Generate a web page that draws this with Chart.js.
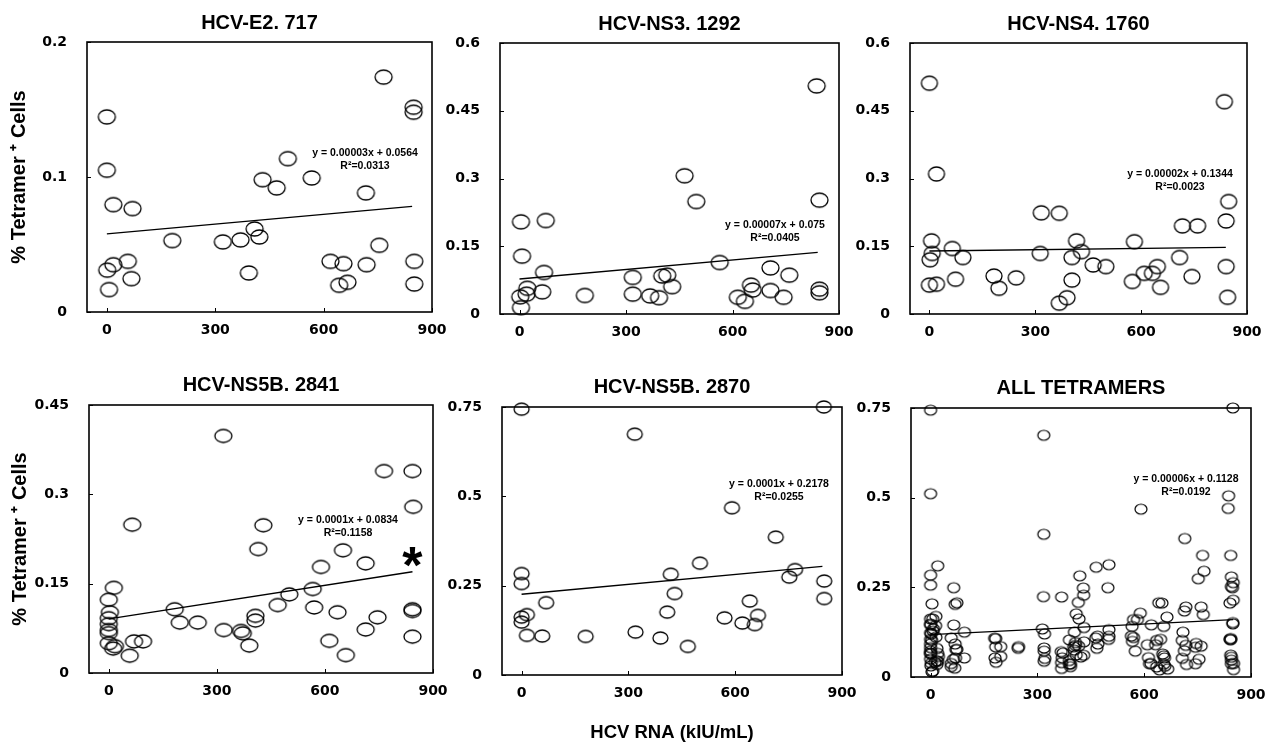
<!DOCTYPE html>
<html><head><meta charset="utf-8">
<script src="https://cdn.jsdelivr.net/npm/chart.js@4.4.1/dist/chart.umd.min.js"></script>
<style>
html,body{margin:0;padding:0;background:#fff;}
#wrap{position:relative;width:1271px;height:746px;overflow:hidden;background:#fff;}
#wrap canvas{position:absolute;left:0;top:0;}
</style></head><body>
<div id="wrap">
<canvas id="c1" width="1271" height="746"></canvas>
<canvas id="c2" width="1271" height="746"></canvas>
<canvas id="c3" width="1271" height="746"></canvas>
<canvas id="c4" width="1271" height="746"></canvas>
<canvas id="c5" width="1271" height="746"></canvas>
<canvas id="c6" width="1271" height="746"></canvas>
</div>
<script>
// ---------- data ----------
const panelTitles = ["HCV-E2. 717", "HCV-NS3. 1292", "HCV-NS4. 1760", "HCV-NS5B. 2841", "HCV-NS5B. 2870", "ALL TETRAMERS"];
const yAxisTitle = "% Tetramer \u207A Cells";
const xAxisTitle = "HCV RNA (kIU/mL)";
const xTickVals = [0, 300, 600, 900];

const e2X = [0, 0, 18, 71, 18, 1, 58, 68, 6, 181, 321, 370, 409, 422, 393, 431, 470, 501, 567, 766, 849, 849, 717, 754, 619, 655, 719, 851, 643, 666, 851];
const e2Y = [0.1445, 0.105, 0.0795, 0.0766, 0.035, 0.031, 0.0375, 0.0247, 0.0166, 0.0529, 0.0519, 0.0534, 0.0615, 0.0556, 0.0289, 0.098, 0.0919, 0.1136, 0.0993, 0.174, 0.1517, 0.148, 0.0882, 0.0494, 0.0375, 0.0358, 0.035, 0.0375, 0.0198, 0.022, 0.0207];
const e2YTicks = [0, 0.1, 0.2];
const e2TrendX = [0, 845];
const e2TrendY = [0.0578, 0.0783];
const e2Eq = ["y = 0.00003x + 0.0564", "R\u00B2=0.0313"];

const ns3X = [837, 465, 498, 845, 4, 74, 7, 69, 564, 319, 402, 416, 430, 707, 760, 652, 657, 707, 744, 615, 635, 845, 845, 22, 20, 2, 4, 64, 184, 319, 368, 393];
const ns3Y = [0.505, 0.306, 0.249, 0.252, 0.204, 0.207, 0.128, 0.092, 0.114, 0.081, 0.084, 0.086, 0.0605, 0.102, 0.086, 0.064, 0.053, 0.052, 0.037, 0.037, 0.028, 0.055, 0.047, 0.057, 0.044, 0.038, 0.014, 0.049, 0.041, 0.044, 0.040, 0.036];
const ns3YTicks = [0, 0.15, 0.3, 0.45, 0.6];
const ns3TrendX = [0, 840];
const ns3TrendY = [0.0775, 0.1365];
const ns3Eq = ["y = 0.00007x + 0.075", "R\u00B2=0.0405"];

const ns4X = [0, 20, 836, 848, 841, 317, 368, 717, 760, 6, 8, 2, 65, 95, 314, 417, 404, 431, 464, 500, 581, 709, 841, 0, 20, 74, 183, 197, 246, 404, 368, 390, 575, 609, 632, 646, 655, 744, 845];
const ns4Y = [0.511, 0.310, 0.470, 0.249, 0.206, 0.224, 0.223, 0.195, 0.195, 0.162, 0.134, 0.120, 0.145, 0.125, 0.134, 0.162, 0.125, 0.138, 0.1085, 0.105, 0.160, 0.125, 0.105, 0.064, 0.066, 0.077, 0.084, 0.057, 0.080, 0.075, 0.024, 0.036, 0.072, 0.090, 0.090, 0.105, 0.059, 0.083, 0.037];
const ns4YTicks = [0, 0.15, 0.3, 0.45, 0.6];
const ns4TrendX = [0, 840];
const ns4TrendY = [0.1395, 0.1476];
const ns4Eq = ["y = 0.00002x + 0.1344", "R\u00B2=0.0023"];

const n2841X = [318, 764, 843, 845, 65, 429, 415, 650, 713, 589, 14, 501, 566, 469, 570, 183, 0, 3, 0, 0, 0, 0, 197, 247, 407, 407, 319, 367, 372, 390, 635, 746, 713, 843, 843, 843, 612, 658, 0, 12, 58, 70, 95, 17];
const n2841Y = [0.398, 0.339, 0.339, 0.279, 0.249, 0.248, 0.208, 0.206, 0.184, 0.178, 0.143, 0.132, 0.141, 0.114, 0.110, 0.107, 0.123, 0.102, 0.092, 0.082, 0.072, 0.067, 0.0846, 0.0846, 0.096, 0.088, 0.072, 0.0706, 0.0666, 0.046, 0.102, 0.0935, 0.073, 0.107, 0.104, 0.061, 0.054, 0.030, 0.050, 0.041, 0.029, 0.053, 0.053, 0.045];
const n2841YTicks = [0, 0.15, 0.3, 0.45];
const n2841TrendX = [0, 843];
const n2841TrendY = [0.091, 0.170];
const n2841Eq = ["y = 0.0001x + 0.0834", "R\u00B2=0.1158"];
const n2841Star = [843, 0.195];

const n2870X = [0, 849, 318, 591, 714, 501, 0, 0, 419, 768, 752, 850, 850, 430, 69, 641, 409, 15, 0, 0, 570, 664, 620, 655, 15, 58, 180, 320, 390, 467];
const n2870Y = [0.744, 0.750, 0.674, 0.468, 0.386, 0.313, 0.284, 0.256, 0.282, 0.295, 0.274, 0.263, 0.214, 0.228, 0.2025, 0.207, 0.176, 0.169, 0.162, 0.148, 0.160, 0.167, 0.1455, 0.141, 0.111, 0.109, 0.108, 0.120, 0.1035, 0.080];
const n2870YTicks = [0, 0.25, 0.5, 0.75];
const n2870TrendX = [0, 845];
const n2870TrendY = [0.226, 0.304];
const n2870Eq = ["y = 0.0001x + 0.2178", "R\u00B2=0.0255"];

// "ALL TETRAMERS" is the pooled set of the five tetramers above
const allX = [].concat(e2X, ns3X, ns4X, n2841X, n2870X);
const allY = [].concat(e2Y, ns3Y, ns4Y, n2841Y, n2870Y);
const allYTicks = [0, 0.25, 0.5, 0.75];
const allTrendX = [0, 850];
const allTrendY = [0.118, 0.160];
const allEq = ["y = 0.00006x + 0.1128", "R\u00B2=0.0192"];

// ---------- styling / layout ----------
const SANS = "'Liberation Sans', Arial, Helvetica, sans-serif";
const TICKF = "'DejaVu Sans', Verdana, sans-serif";
const TITLE_FONT = {family: SANS, size: 20, weight: 'bold', lineHeight: 1.2};
const TICK_FONT = {family: TICKF, size: 14, weight: 'bold', lineHeight: 1.2};

function ellipseImg(w, h, lw) {
  const c = document.createElement('canvas');
  c.width = w + 4; c.height = h + 4;
  const g = c.getContext('2d');
  g.strokeStyle = '#000'; g.lineWidth = lw;
  g.beginPath();
  g.ellipse(c.width / 2, c.height / 2, w / 2, h / 2, 0, 0, Math.PI * 2);
  g.stroke();
  return c;
}

const framePlugin = {
  id: 'frame',
  beforeDatasetsDraw(chart) {
    const {ctx, chartArea: a, scales} = chart;
    ctx.save();
    ctx.strokeStyle = '#000';
    ctx.lineWidth = 1.6;
    ctx.strokeRect(a.left, a.top, a.right - a.left, a.bottom - a.top);
    ctx.lineWidth = 1;
    ctx.beginPath();
    scales.x.ticks.forEach(t => {
      const px = Math.round(scales.x.getPixelForValue(t.value)) + 0.5;
      ctx.moveTo(px, a.bottom); ctx.lineTo(px, a.bottom - 4);
    });
    scales.y.ticks.forEach(t => {
      const py = Math.round(scales.y.getPixelForValue(t.value)) + 0.5;
      ctx.moveTo(a.left, py); ctx.lineTo(a.left + 4, py);
    });
    ctx.stroke();
    ctx.restore();
  },
  afterDatasetsDraw(chart, args, opts) {
    const {ctx, chartArea: a, scales} = chart;
    ctx.save();
    ctx.fillStyle = '#000';
    if (opts.eq) {
      ctx.font = "bold 10.5px " + SANS;
      ctx.textAlign = 'center';
      ctx.textBaseline = 'middle';
      ctx.fillText(opts.eq[0], a.left + opts.eqPos[0], a.top + opts.eqPos[1]);
      ctx.fillText(opts.eq[1], a.left + opts.eqPos[0], a.top + opts.eqPos[1] + 13);
    }
    if (opts.star) {
      ctx.font = "bold 52px " + SANS;
      ctx.textAlign = 'center';
      ctx.textBaseline = 'alphabetic';
      const m = ctx.measureText('*');
      const cx = scales.x.getPixelForValue(opts.star[0]);
      const cy = scales.y.getPixelForValue(opts.star[1]);
      ctx.fillText('*', cx, cy + (m.actualBoundingBoxAscent - m.actualBoundingBoxDescent) / 2);
    }
    ctx.restore();
  }
};
Chart.register(framePlugin);

function makeChart(id, p) {
  const pts = p.xs.map((x, i) => ({x: x, y: p.ys[i]}));
  const trend = p.tx.map((x, i) => ({x: x, y: p.ty[i]}));
  new Chart(document.getElementById(id), {
    type: 'scatter',
    data: {
      datasets: [
        {data: pts, pointStyle: ellipseImg(p.pw, p.ph, p.lw), pointRadius: 6, clip: false, order: 1},
        {data: trend, showLine: true, borderColor: '#000', borderWidth: 1.3, pointRadius: 0, fill: false, clip: false, order: 2}
      ]
    },
    options: {
      responsive: false, animation: false, events: [],
      layout: {padding: p.pad},
      plugins: {
        legend: {display: false}, tooltip: {enabled: false},
        title: {display: true, text: p.title, fullSize: false, color: '#000', font: TITLE_FONT, padding: {top: p.tp, bottom: p.tb}},
        frame: {eq: p.eq, eqPos: p.eqPos, star: p.star || null}
      },
      scales: {
        x: {
          type: 'linear', min: -55, max: 900,
          afterBuildTicks: s => { s.ticks = xTickVals.map(v => ({value: v})); },
          afterFit: s => { s.height = p.xh; },
          grid: {display: false}, border: {display: false},
          ticks: {color: '#000', font: TICK_FONT, padding: 2, maxRotation: 0, autoSkip: false, callback: v => String(v)},
          title: p.xTitle ? {display: true, text: xAxisTitle, color: '#000', font: {family: SANS, size: 18.5, weight: 'bold', lineHeight: 1.2}, padding: {top: 0, bottom: 0}} : {display: false}
        },
        y: {
          type: 'linear', min: 0, max: p.yt[p.yt.length - 1],
          afterBuildTicks: s => { s.ticks = p.yt.map(v => ({value: v})); },
          afterFit: s => { s.width = p.yw; },
          grid: {display: false}, border: {display: false},
          ticks: {color: '#000', font: TICK_FONT, padding: 12, autoSkip: false, callback: v => String(v)},
          title: p.yTitle ? {display: true, text: yAxisTitle, color: '#000', font: {family: SANS, size: 20, weight: 'bold', lineHeight: 1.2}, padding: {top: 4, bottom: 4}} : {display: false}
        }
      }
    }
  });
}

makeChart('c1', {title: panelTitles[0], xs: e2X, ys: e2Y, yt: e2YTicks, tx: e2TrendX, ty: e2TrendY, eq: e2Eq, eqPos: [278, 111],
  pad: {left: 3, top: 0, right: 839, bottom: 404}, tp: 11, tb: 7, yw: 84, xh: 30, yTitle: true, pw: 17, ph: 14, lw: 1.3});
makeChart('c2', {title: panelTitles[1], xs: ns3X, ys: ns3Y, yt: ns3YTicks, tx: ns3TrendX, ty: ns3TrendY, eq: ns3Eq, eqPos: [275, 182],
  pad: {left: 440, top: 0, right: 432, bottom: 402}, tp: 12.5, tb: 6.5, yw: 60, xh: 30, pw: 17, ph: 14, lw: 1.3});
makeChart('c3', {title: panelTitles[2], xs: ns4X, ys: ns4Y, yt: ns4YTicks, tx: ns4TrendX, ty: ns4TrendY, eq: ns4Eq, eqPos: [270, 131],
  pad: {left: 850, top: 0, right: 24, bottom: 402}, tp: 12.5, tb: 6.5, yw: 60, xh: 30, pw: 16, ph: 14, lw: 1.3});
makeChart('c4', {title: panelTitles[3], xs: n2841X, ys: n2841Y, yt: n2841YTicks, tx: n2841TrendX, ty: n2841TrendY, eq: n2841Eq, eqPos: [259, 115], star: n2841Star,
  pad: {left: 4, top: 360, right: 838, bottom: 43}, tp: 13.5, tb: 7.5, yw: 85, xh: 30, yTitle: true, pw: 17, ph: 13, lw: 1.3});
makeChart('c5', {title: panelTitles[4], xs: n2870X, ys: n2870Y, yt: n2870YTicks, tx: n2870TrendX, ty: n2870TrendY, eq: n2870Eq, eqPos: [277, 77],
  pad: {left: 442, top: 360, right: 429, bottom: 2}, tp: 15, tb: 8, yw: 60, xh: 69, xTitle: true, pw: 15, ph: 12, lw: 1.3});
makeChart('c6', {title: panelTitles[5], xs: allX, ys: allY, yt: allYTicks, tx: allTrendX, ty: allTrendY, eq: allEq, eqPos: [275, 71],
  pad: {left: 851, top: 360, right: 20, bottom: 39}, tp: 16.5, tb: 7.5, yw: 60, xh: 30, pw: 12, ph: 10, lw: 1.2});
</script>
</body></html>
